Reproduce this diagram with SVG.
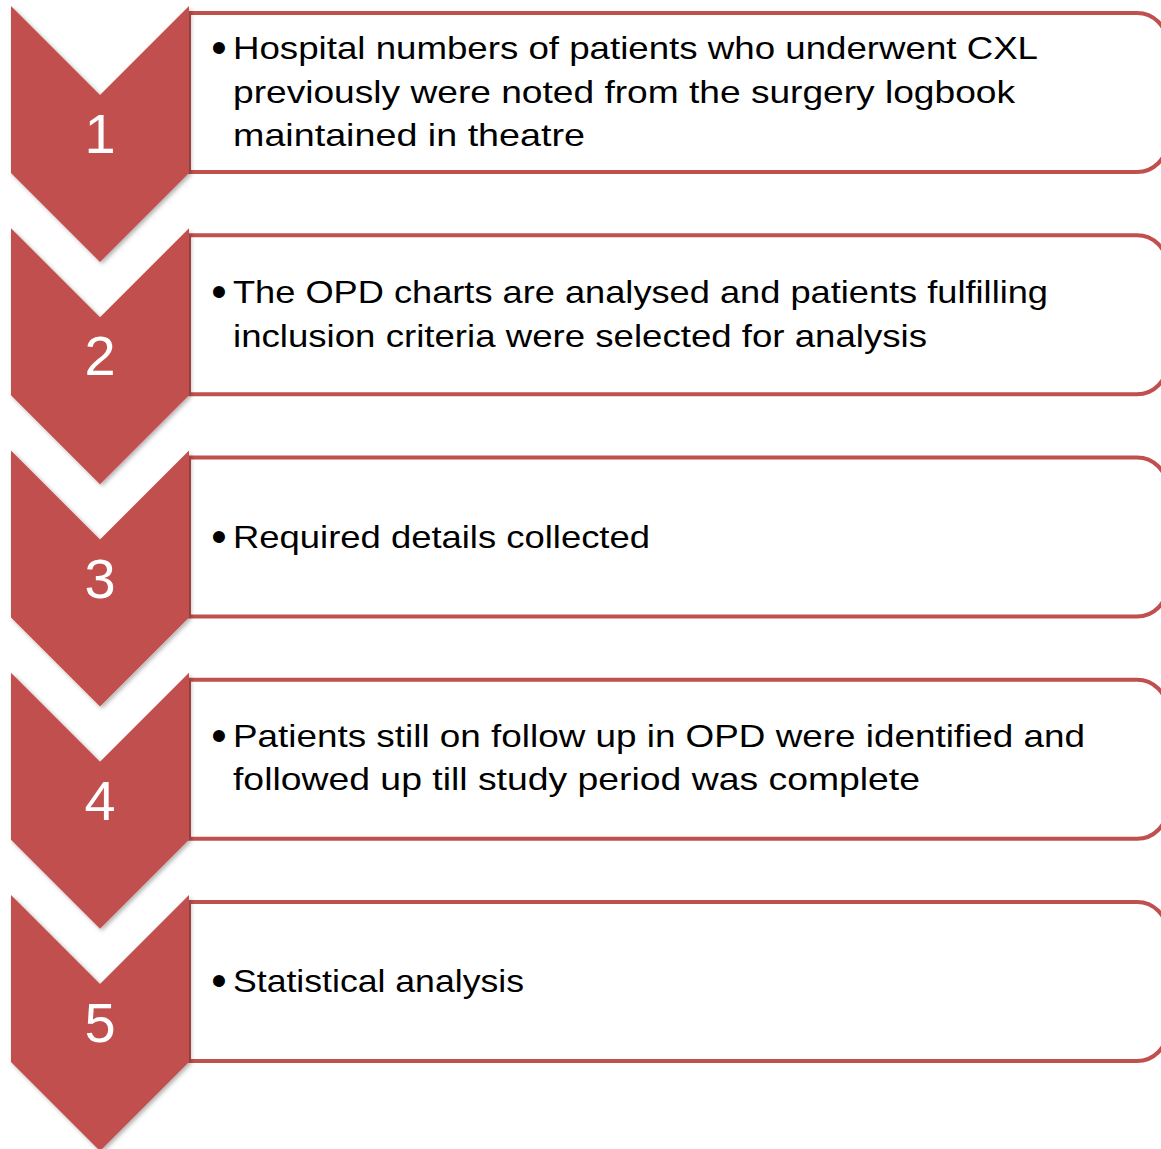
<svg xmlns="http://www.w3.org/2000/svg" width="1161" height="1149" viewBox="0 0 1161 1149">
  <defs>
    <filter id="shade" x="-10%" y="-10%" width="130%" height="130%">
      <feDropShadow dx="2" dy="2" stdDeviation="2" flood-color="#000" flood-opacity="0.3"/>
    </filter>
    <!-- downward chevron, 45° notch and point -->
    <path id="chev" d="M11,6 L100,95 L189,6 L189,173 L100,262 L11,173 Z"/>
    <!-- text panel: square on the left, rounded on the right -->
    <path id="panel" d="M189,13 H1137 A30,30 0 0 1 1167,43 V142 A30,30 0 0 1 1137,172 H189 Z"/>
  </defs>
  <style>
    .chev { fill: #C0504D; filter: url(#shade); }
    .box { fill: #FFFFFF; stroke: #C0504D; stroke-width: 4; }
    .num { font-family: "Liberation Sans", Arial, sans-serif; font-size: 56px; fill: #FFFFFF; text-anchor: middle; }
    .txt { font-family: "Liberation Sans", Arial, sans-serif; font-size: 31.5px; fill: #000000; }
    .bul { font-family: "Liberation Sans", Arial, sans-serif; font-size: 44px; fill: #000000; text-anchor: middle; }
  </style>
  <rect width="1161" height="1149" fill="#FFFFFF"/>

  <!-- step 1 -->
  <g id="step1">
    <use href="#panel" class="box"/>
    <use href="#chev" class="chev"/>
    <text class="num" x="100" y="153">1</text>
    <text class="bul" x="219" y="63">•</text>
    <text class="txt" x="233" y="59" textLength="805" lengthAdjust="spacingAndGlyphs">Hospital numbers of patients who underwent CXL</text>
    <text class="txt" x="233" y="102.5" textLength="782" lengthAdjust="spacingAndGlyphs">previously were noted from the surgery logbook</text>
    <text class="txt" x="233" y="146" textLength="352" lengthAdjust="spacingAndGlyphs">maintained in theatre</text>
  </g>

  <!-- step 2 -->
  <g id="step2" transform="translate(0,222.25)">
    <use href="#panel" class="box"/>
    <use href="#chev" class="chev"/>
    <text class="num" x="100" y="153">2</text>
    <text class="bul" x="219" y="85">•</text>
    <text class="txt" x="233" y="81" textLength="815" lengthAdjust="spacingAndGlyphs">The OPD charts are analysed and patients fulfilling</text>
    <text class="txt" x="233" y="124.5" textLength="694" lengthAdjust="spacingAndGlyphs">inclusion criteria were selected for analysis</text>
  </g>

  <!-- step 3 -->
  <g id="step3" transform="translate(0,444.5)">
    <use href="#panel" class="box"/>
    <use href="#chev" class="chev"/>
    <text class="num" x="100" y="153">3</text>
    <text class="bul" x="219" y="107.5">•</text>
    <text class="txt" x="233" y="103.5" textLength="417" lengthAdjust="spacingAndGlyphs">Required details collected</text>
  </g>

  <!-- step 4 -->
  <g id="step4" transform="translate(0,666.75)">
    <use href="#panel" class="box"/>
    <use href="#chev" class="chev"/>
    <text class="num" x="100" y="153">4</text>
    <text class="bul" x="219" y="84">•</text>
    <text class="txt" x="233" y="80" textLength="852" lengthAdjust="spacingAndGlyphs">Patients still on follow up in OPD were identified and</text>
    <text class="txt" x="233" y="123.5" textLength="687" lengthAdjust="spacingAndGlyphs">followed up till study period was complete</text>
  </g>

  <!-- step 5 -->
  <g id="step5" transform="translate(0,889)">
    <use href="#panel" class="box"/>
    <use href="#chev" class="chev"/>
    <text class="num" x="100" y="153">5</text>
    <text class="bul" x="219" y="107">•</text>
    <text class="txt" x="233" y="103" textLength="291" lengthAdjust="spacingAndGlyphs">Statistical analysis</text>
  </g>
</svg>
